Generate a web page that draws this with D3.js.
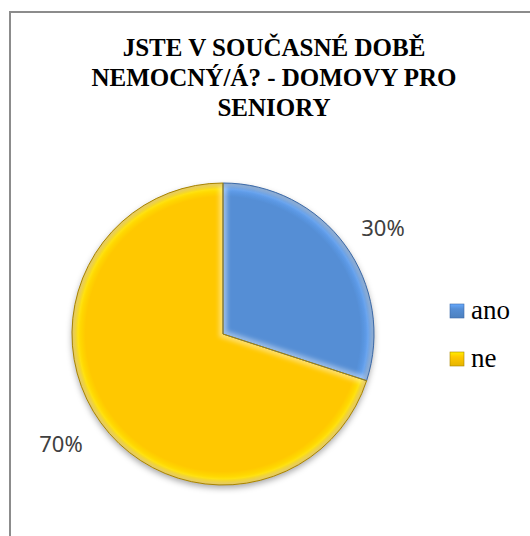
<!DOCTYPE html>
<html>
<head>
<meta charset="utf-8">
<script src="https://cdn.jsdelivr.net/npm/d3@7"></script>
<style>
  body { margin: 0; background: #fff; }
  #wrap { position: relative; width: 530px; height: 536px; overflow: hidden; }
  #wrap svg { position: absolute; left: 0; top: 0; }
  .serif-txt { position: absolute; font-family: "Liberation Serif", "Times New Roman", Tinos, serif; color: #000; white-space: nowrap; line-height: 1; }
</style>
</head>
<body>
<div id="wrap"><svg id="chart" width="530" height="536"></svg></div>
<script>
// Survey answers: currently ill? (retirement homes)
const titleLines = ["JSTE V SOUČASNÉ DOBĚ", "NEMOCNÝ/Á? - DOMOVY PRO", "SENIORY"];
const categories = ["ano", "ne"];
const values = [30, 70];
const labels = ["30%", "70%"];
const colors = ["#558ed5", "#ffc800"];
const rimColors = ["#3c6aa8", "#a88400"];

const wrap = d3.select("#wrap");
const svg = d3.select("#chart");
const W = 530, H = 536;

const defs = svg.append("defs");

// soft drop shadow under the pie
const shadow = defs.append("filter").attr("id", "shadow")
  .attr("x", "-20%").attr("y", "-20%").attr("width", "140%").attr("height", "140%");
shadow.append("feDropShadow").attr("dx", 0).attr("dy", 3)
  .attr("stdDeviation", 3).attr("flood-color", "#000").attr("flood-opacity", 0.35);

// blur used for the bevel highlight along slice edges
defs.append("filter").attr("id", "bevelBlur")
  .append("feGaussianBlur").attr("stdDeviation", 2.2);

// chart frame (left and top edges show)
svg.append("path")
  .attr("d", d3.line()([[10, H + 5], [10, 12], [W + 5, 12]]))
  .attr("fill", "none").attr("stroke", "#8c8c8c").attr("stroke-width", 2);

// title lines as positioned HTML text (baseline ≈ top + 0.891em for this face)
wrap.selectAll("div.title")
  .data(titleLines)
  .join("div")
  .attr("class", "serif-txt title")
  .style("left", "74px")
  .style("width", "400px")
  .style("text-align", "center")
  .style("top", (d, i) => (57 + i * 30 - 22) + "px")
  .style("font-size", "25px")
  .style("font-weight", "bold")
  .text(d => d);

// pie
const cx = 223, cy = 334, r = 151;
const pie = d3.pie().sort(null).value(d => d)(values);
const arc = d3.arc().innerRadius(0).outerRadius(r);

const g = svg.append("g").attr("transform", `translate(${cx},${cy})`);

// radial shading per slice
categories.forEach((c, i) => {
  const rg = defs.append("radialGradient").attr("id", "grad" + i)
    .attr("gradientUnits", "userSpaceOnUse")
    .attr("cx", 0).attr("cy", 0).attr("r", r);
  const base = d3.color(colors[i]);
  rg.append("stop").attr("offset", "0%").attr("stop-color", base.formatHex());
  rg.append("stop").attr("offset", "91%").attr("stop-color", base.formatHex());
  rg.append("stop").attr("offset", "96%").attr("stop-color", base.brighter(0.3).formatHex());
  rg.append("stop").attr("offset", "100%").attr("stop-color", base.darker(0.6).formatHex());

  defs.append("clipPath").attr("id", "clip" + i)
    .append("path").attr("d", arc(pie[i]));
});

const slices = g.append("g").attr("filter", "url(#shadow)");
slices.selectAll("path.slice")
  .data(pie)
  .join("path")
  .attr("class", "slice")
  .attr("d", arc)
  .attr("fill", (d, i) => `url(#grad${i})`);

// bevel highlight inside each slice edge
g.selectAll("path.bevel")
  .data(pie)
  .join("path")
  .attr("class", "bevel")
  .attr("d", arc)
  .attr("clip-path", (d, i) => `url(#clip${i})`)
  .attr("fill", "none")
  .attr("stroke", "#ffffff")
  .attr("stroke-opacity", 0.4)
  .attr("stroke-width", 8)
  .attr("filter", "url(#bevelBlur)");

// slice outlines
g.selectAll("path.edge")
  .data(pie)
  .join("path")
  .attr("class", "edge")
  .attr("d", arc)
  .attr("fill", "none")
  .attr("stroke", (d, i) => rimColors[i])
  .attr("stroke-width", 1);

// percentage labels
const labelPos = [[383, 236], [61, 452]];
svg.selectAll("text.pct")
  .data(labels)
  .join("text")
  .attr("class", "pct")
  .attr("x", (d, i) => labelPos[i][0])
  .attr("y", (d, i) => labelPos[i][1])
  .attr("text-anchor", "middle")
  .style("font-family", '"Noto Sans", sans-serif')
  .style("font-size", "22px")
  .attr("fill", "#404040")
  .text(d => d);

// legend swatches
categories.forEach((c, i) => {
  const lg = defs.append("linearGradient").attr("id", "lg" + i)
    .attr("x1", 0).attr("y1", 0).attr("x2", 0).attr("y2", 1);
  const base = d3.color(colors[i]);
  lg.append("stop").attr("offset", "0%").attr("stop-color", base.brighter(0.5).formatHex());
  lg.append("stop").attr("offset", "35%").attr("stop-color", base.formatHex());
  lg.append("stop").attr("offset", "100%").attr("stop-color", base.darker(0.3).formatHex());
});

svg.selectAll("rect.swatch")
  .data(categories)
  .join("rect")
  .attr("class", "swatch")
  .attr("x", 450)
  .attr("y", (d, i) => 304 + i * 48)
  .attr("width", 14).attr("height", 14)
  .attr("fill", (d, i) => `url(#lg${i})`)
  .attr("stroke", (d, i) => rimColors[i])
  .attr("stroke-width", 0.6);

// legend labels (baseline at 321 / 369)
wrap.selectAll("div.leg")
  .data(categories)
  .join("div")
  .attr("class", "serif-txt leg")
  .style("left", "471px")
  .style("top", (d, i) => (321 + i * 48 - 24) + "px")
  .style("font-size", "27px")
  .text(d => d);
</script>
</body>
</html>
